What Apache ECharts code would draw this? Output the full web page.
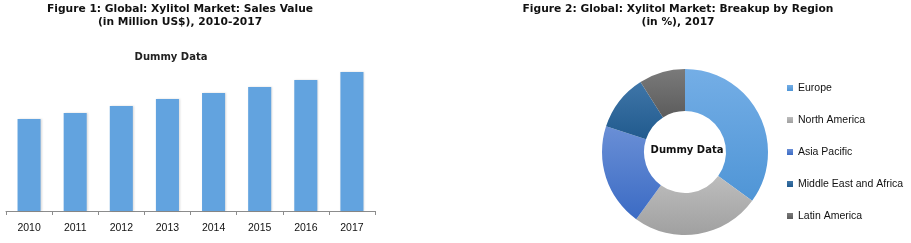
<!DOCTYPE html>
<html><head><meta charset="utf-8">
<script src="https://cdn.jsdelivr.net/npm/echarts@6/dist/echarts.min.js"></script>
<style>html,body{margin:0;padding:0;background:#fff}#c{width:911px;height:243px}</style>
</head><body><div id="c"></div>
<script>
const years = ['2010','2011','2012','2013','2014','2015','2016','2017'];
const salesValues = [92, 98, 105, 112, 118, 124, 131, 139];
const regions = ['Europe','North America','Asia Pacific','Middle East and Africa','Latin America'];
const regionShares = [35, 25, 20, 11, 9];
const regionColors = [['#74aee6','#4f95d6'],['#bdbdbd','#a0a0a0'],['#6a8fd6','#3b6bc4'],['#3f76a8','#215a8e'],['#7a7a7a','#5c5c5c']];

const F = 'DejaVu Sans';
const L = 'Liberation Sans';
const chart = echarts.init(document.getElementById('c'));
chart.setOption({
  animation: false,
  textStyle: {fontFamily: F},
  title: [
    {text: 'Figure 1: Global: Xylitol Market: Sales Value\n(in Million US$), 2010-2017', left: 180, top: 3, textAlign: 'center', padding: 0,
     textStyle: {fontFamily: F, fontSize: 10.7, fontWeight: 'bold', color: '#111', lineHeight: 13}},
    {text: 'Dummy Data', left: 171, top: 52, textAlign: 'center', padding: 0,
     textStyle: {fontFamily: F, fontSize: 10, fontWeight: 'bold', color: '#222'}},
    {text: 'Figure 2: Global: Xylitol Market: Breakup by Region\n(in %), 2017', left: 678, top: 3, textAlign: 'center', padding: 0,
     textStyle: {fontFamily: F, fontSize: 10.7, fontWeight: 'bold', color: '#111', lineHeight: 13}},
    {text: 'Dummy Data', left: 687, top: 145, textAlign: 'center', padding: 0,
     textStyle: {fontFamily: F, fontSize: 10, fontWeight: 'bold', color: '#111'}}
  ],
  grid: {left: 6, right: 536, top: 61, bottom: 32},
  xAxis: {type: 'category', data: years,
    axisLine: {show: true, lineStyle: {color: '#8c8c8c'}},
    axisTick: {show: true, length: 4, lineStyle: {color: '#8c8c8c'}},
    axisLabel: {color: '#111', fontSize: 10.5, fontFamily: L, margin: 12}},
  yAxis: {type: 'value', min: 0, max: 150, show: false, splitLine: {show: false}},
  legend: {orient: 'vertical', left: 787, top: 82, padding: 0, itemWidth: 6, itemHeight: 6, itemGap: 20, itemTextGap: 3,
    icon: 'rect', data: regions,
    textStyle: {fontFamily: L, fontSize: 10.5, color: '#111', lineHeight: 12}},
  series: [
    {type: 'bar', data: salesValues, barWidth: '50%',
     itemStyle: {color: '#62a3df', shadowColor: 'rgba(0,0,0,0.15)', shadowBlur: 2, shadowOffsetX: 1}},
    {type: 'pie', center: [685, 152], radius: [41, 83], startAngle: 90, clockwise: true,
     label: {show: false}, labelLine: {show: false},
     data: regions.map((r, i) => ({name: r, value: regionShares[i],
       itemStyle: {color: new echarts.graphic.LinearGradient(0, 0, 0, 1, [{offset: 0, color: regionColors[i][0]}, {offset: 1, color: regionColors[i][1]}])}}))}
  ]
});
</script></body></html>
